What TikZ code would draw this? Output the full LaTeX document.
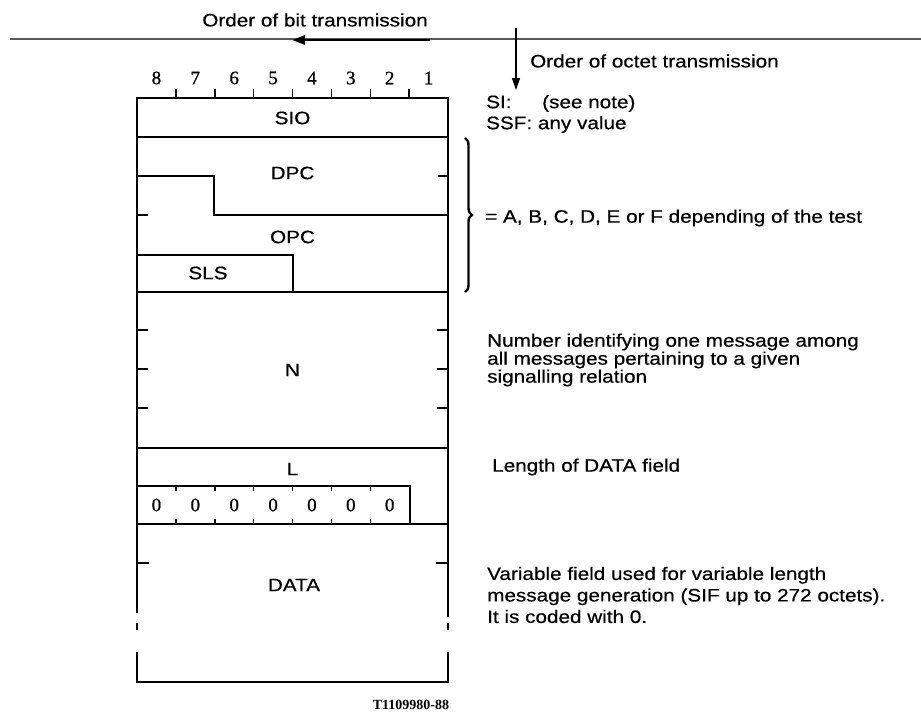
\documentclass[tikz,border=0pt]{standalone}
\usepackage{fontspec}
\setmainfont{Liberation Sans}[FakeStretch=1.15,FakeBold=0.5]
\newfontfamily\digitfont{Liberation Serif}[FakeBold=0.8]
\newfontfamily\codefont{Liberation Serif}
\usetikzlibrary{arrows.meta,decorations.pathreplacing}
\begin{document}
\begin{tikzpicture}[x=1pt,y=-1pt,
  frame/.style={line width=2.1pt},
  thinline/.style={line width=1.5pt},
  thickline/.style={line width=2.8pt},
  tickmark/.style={line width=1.5pt},
  lbl/.style={inner sep=0pt, font=\fontsize{18}{20}\selectfont},
  dig/.style={inner sep=0pt, font=\digitfont\fontsize{19}{20}\selectfont},
  note/.style={inner sep=0pt, align=left, anchor=west},
]
\useasboundingbox (0,0) rectangle (921,713);

% top reference line and arrows
\coordinate (lineL) at (10,39);
\coordinate (lineR) at (921,39);
\draw[line width=1.2pt, black!65] (lineL) -- (lineR);
\coordinate (bitS) at (430,40);
\coordinate (bitE) at (292,40);
\draw[line width=2.6pt, -{Triangle[length=13pt,width=9pt]}] (bitS) -- (bitE);
\node[lbl] (bittxt) at (315,20) {Order of bit transmission};
\coordinate (octS) at (516,28);
\coordinate (octE) at (516,90);
\draw[line width=1.3pt, -{Triangle[length=12pt,width=8pt]}] (octS) -- (octE);
\node[lbl, anchor=west] (octtxt) at (530,61) {Order of octet transmission};

% bit numbers and top ticks
\foreach \d [count=\i from 0] in {8,7,6,5,4,3,2,1}{
  \node[dig] (b\d) at ({137+38.875*(\i+0.5)},78) {\d};
}
\foreach \i in {1,...,7}{
  \coordinate (tt\i) at ({137+38.875*\i},98);
  \coordinate (tu\i) at ({137+38.875*\i},89);
  \draw[tickmark] (tt\i) -- (tu\i);
}

% outer frame
\coordinate (TL) at (137,98);
\coordinate (TR) at (448,98);
\coordinate (BL) at (137,682);
\coordinate (BR) at (448,682);
\draw[frame] (137,613) -- (TL) -- (TR) -- (448,617);
\draw[frame] (137,652) -- (BL) -- (BR) -- (448,652);
\draw[frame] (137,623) -- (137,630);
\draw[frame] (448,623) -- (448,630);

% SIO
\draw[thinline] (137,137) -- (448,137);
\node[lbl] (sio) at (292.5,118) {SIO};

% DPC / OPC / SLS
\draw[frame] (137,176) -- (214,176) -- (214,215) -- (448,215);
\draw[tickmark] (448,176) -- (438,176);
\draw[tickmark] (137,215) -- (148,215);
\node[lbl] (dpc) at (292.5,173) {DPC};
\node[lbl] (opc) at (292.5,237) {OPC};
\draw[frame] (137,255) -- (293,255) -- (293,292);
\node[lbl] (sls) at (208,273) {SLS};
\draw[thickline] (137,292) -- (448,292);

% N
\foreach \y in {330,369,408}{
  \draw[tickmark] (137,\y) -- (148,\y);
  \draw[tickmark] (448,\y) -- (437,\y);
}
\node[lbl] (n) at (292.5,370) {N};
\draw[frame] (137,448) -- (448,448);

% L and zeros
\node[lbl] (l) at (292.5,469) {L};
\draw[frame] (137,486) -- (410,486) -- (410,524);
\draw[frame] (137,524) -- (448,524);
\foreach \i in {1,...,6}{
  \draw[tickmark] ({137+38.875*\i},486) -- ({137+38.875*\i},491);
  \draw[tickmark] ({137+38.875*\i},524) -- ({137+38.875*\i},519);
}
\foreach \i in {0,...,6}{
  \node[dig] (z\i) at ({137+38.875*(\i+0.5)},505) {0};
}

% DATA
\draw[tickmark] (137,563) -- (149,563);
\draw[tickmark] (448,563) -- (436,563);
\node[lbl] (data) at (294,585) {DATA};

% code
\node[inner sep=0pt, font=\codefont\bfseries\fontsize{14}{16}\selectfont] (code) at (411,705) {T1109980-88};

% right-hand notes
\node[note, lbl] (si) at (486,114) [align=left, font=\fontsize{18}{21}\selectfont] {\makebox[56pt][l]{SI:}(see note)\\SSF: any value};
\coordinate (brT) at (465,138);
\coordinate (brB) at (465,292);
\draw[line width=2.4pt, decorate, decoration={brace, amplitude=7pt}] (brT) -- (brB);
\node[lbl, anchor=west] (eq) at (485,218) {= A, B, C, D, E or F depending of the test};
\node[note, lbl] (num) at (487,360) [align=left, font=\fontsize{18}{18}\selectfont] {Number identifying one message among\\all messages pertaining to a given\\signalling relation};
\node[lbl, anchor=west] (len) at (492,467) {Length of DATA field};
\node[note, lbl] (var) at (487,595) [align=left, font=\fontsize{18}{21.5}\selectfont] {Variable field used for variable length\\message generation (SIF up to 272 octets).\\It is coded with 0.};
\end{tikzpicture}
\end{document}
